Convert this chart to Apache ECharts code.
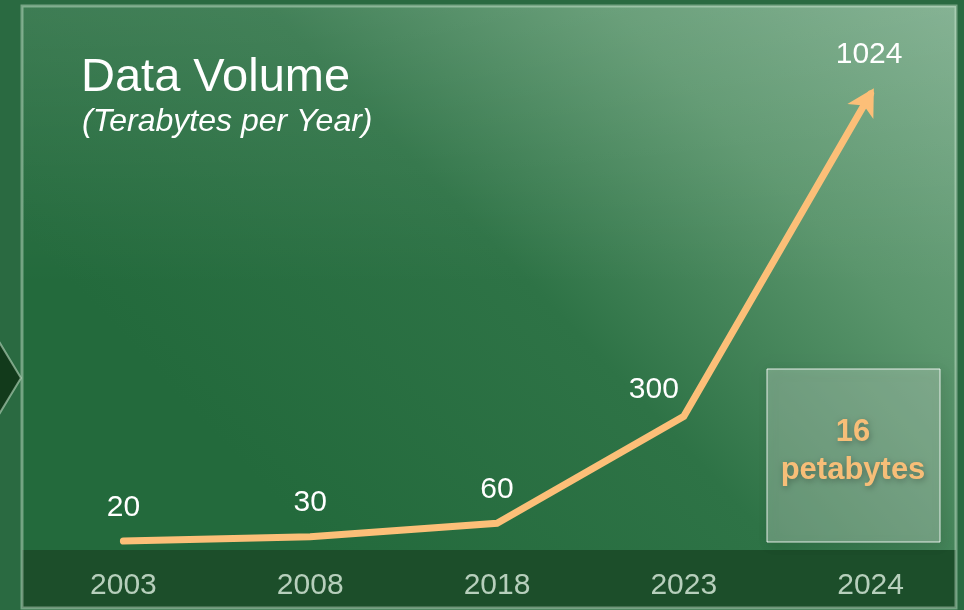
<!DOCTYPE html>
<html>
<head>
<meta charset="utf-8">
<script src="https://cdn.jsdelivr.net/npm/echarts@6/dist/echarts.min.js"></script>
<style>
html,body{margin:0;padding:0;background:#2a6a41;}
#chart{width:964px;height:610px;}
</style>
</head>
<body>
<div id="chart"></div>
<script>
const years = ['2003', '2008', '2018', '2023', '2024'];
const volumes = [20, 30, 60, 300, 1024];
const titleText = 'Data Volume';
const subtitleText = '(Terabytes per Year)';
const calloutText = '16\npetabytes';

const FONT = '"Liberation Sans", Arial, sans-serif';
const LINE = '#FCBF78';

const labelTweaks = [
  {},
  {},
  {},
  {offset: [-30, 7]},
  {distance: 11, offset: [2, 0]}
];

const seriesData = volumes.map((v, i) => {
  const item = {value: v};
  item.label = Object.assign({show: true}, labelTweaks[i]);
  if (i === volumes.length - 1) {
    item.symbol = 'path://M0,0 L15,27 L0,20 L-15,27 Z';
    item.symbolSize = [30, 27];
    item.symbolRotate = -30;
    item.symbolOffset = [-3.5, 6];
    item.itemStyle = {color: LINE, opacity: 1};
  }
  return item;
});

const chart = echarts.init(document.getElementById('chart'), null, {renderer: 'canvas'});
chart.setOption({
  backgroundColor: 'transparent',
  animation: false,
  title: [
    {text: titleText, left: 81, top: 55, padding: 0,
     textStyle: {color: '#ffffff', fontFamily: FONT, fontSize: 47, fontWeight: 'normal'}},
    {text: subtitleText, left: 82, top: 106, padding: 0,
     textStyle: {color: '#ffffff', fontFamily: FONT, fontSize: 32, fontWeight: 'normal', fontStyle: 'italic'}}
  ],
  graphic: [
    {type: 'rect', z: -20, silent: true, shape: {x: 22, y: 6, width: 934, height: 602},
     style: {fill: {type: 'linear', x: 1, y: 0, x2: 0.35, y2: 0.95, colorStops: [
       {offset: 0, color: '#78aa88'}, {offset: 0.3, color: '#5a956c'},
       {offset: 0.6, color: '#2e7346'}, {offset: 1, color: '#236a3c'}]}}},
    {type: 'rect', z: -19, silent: true, shape: {x: 22, y: 6, width: 934, height: 280},
     style: {fill: {type: 'linear', x: 0, y: 0, x2: 0, y2: 1, colorStops: [
       {offset: 0, color: 'rgba(255,255,255,0.1)'}, {offset: 1, color: 'rgba(255,255,255,0)'}]}}},
    {type: 'rect', z: -18, silent: true, shape: {x: 22, y: 550, width: 934, height: 58},
     style: {fill: '#1c4e2a'}},
    {type: 'rect', z: -17, silent: true, shape: {x: 22, y: 6, width: 934, height: 602},
     style: {fill: 'none', stroke: 'rgba(210,235,215,0.45)', lineWidth: 3}},
    {type: 'polygon', z: -17, silent: true, shape: {points: [[-40, 378], [-2, 340], [21, 378], [-2, 416]]},
     style: {fill: '#123a1b', stroke: 'rgba(190,220,195,0.6)', lineWidth: 2}},
    {type: 'rect', z: 50, silent: true, shape: {x: 767, y: 369, width: 173, height: 173},
     style: {fill: 'rgba(220,235,225,0.32)', stroke: 'rgba(255,255,255,0.85)', lineWidth: 1,
             shadowBlur: 12, shadowColor: 'rgba(0,0,0,0.25)', shadowOffsetX: 2, shadowOffsetY: 3}},
    {type: 'text', z: 51, silent: true, x: 853, y: 451,
     style: {text: calloutText, fill: '#F7BE78', font: 'bold 31px ' + FONT,
             align: 'center', verticalAlign: 'middle', lineHeight: 38,
             textShadowBlur: 6, textShadowColor: 'rgba(0,0,0,0.3)', textShadowOffsetX: 1, textShadowOffsetY: 2}}
  ],
  grid: {left: 30, right: 0, top: 60, bottom: 60, containLabel: false},
  xAxis: {
    type: 'category', data: years, boundaryGap: true,
    axisLine: {show: false}, axisTick: {show: false}, splitLine: {show: false},
    axisLabel: {color: '#b7cfbc', fontFamily: FONT, fontSize: 30, margin: 21}
  },
  yAxis: {
    type: 'value', min: 0, max: 1100, show: false, splitLine: {show: false}
  },
  series: [{
    type: 'line',
    data: seriesData,
    symbol: 'circle',
    symbolSize: 1,
    showSymbol: true,
    lineStyle: {color: LINE, width: 7, cap: 'round', join: 'miter'},
    itemStyle: {color: LINE},
    label: {show: true, position: 'top', distance: 18, color: '#ffffff', fontFamily: FONT, fontSize: 30},
    z: 10
  }]
});
</script>
</body>
</html>
